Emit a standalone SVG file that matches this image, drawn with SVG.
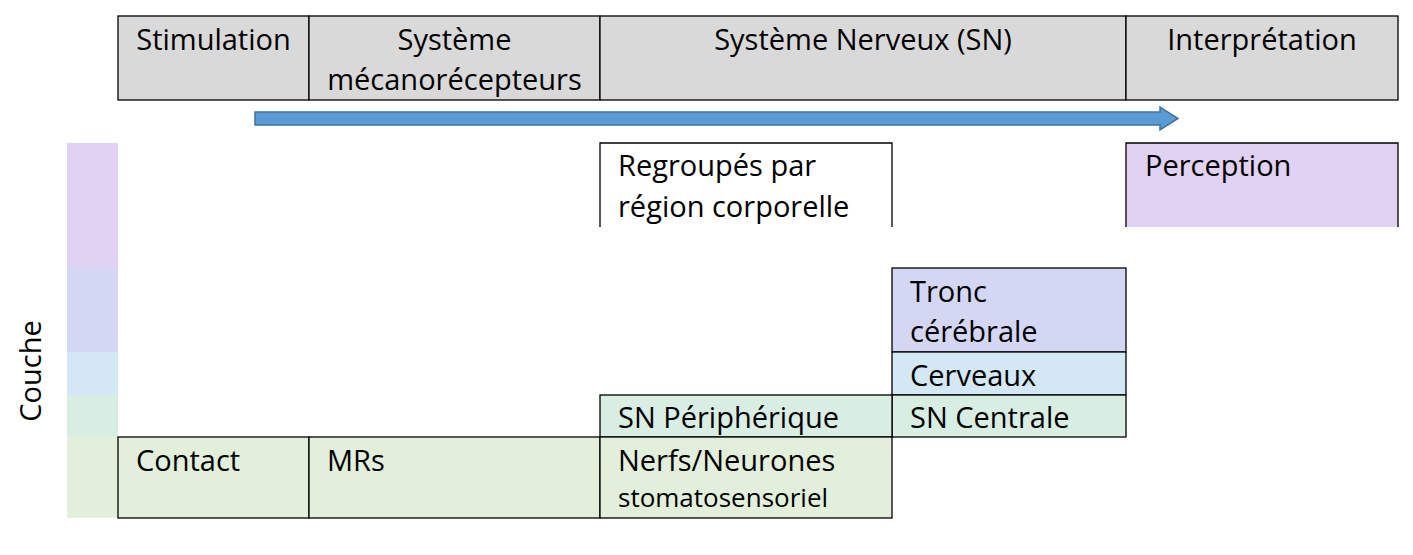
<svg xmlns="http://www.w3.org/2000/svg" width="1413" height="555" viewBox="0 0 1413 555">
<style>
text{font-family:"Open Sans","Noto Sans",sans-serif;font-size:29px;fill:#000}
.c{text-anchor:middle}
.b{stroke:#000;stroke-width:1.3}
.e{stroke:#000;stroke-width:1.3;fill:none}
.hd{fill:#D9D9D9}
.pu{fill:#E1D2F3}
.vi{fill:#D4D7F3}
.lb{fill:#D3E7F5}
.mi{fill:#D9EEE3}
.gr{fill:#E2EFDA}
</style>
<rect width="1413" height="555" fill="#fff"/>
<g id="layer-bar">
<rect class="pu" x="67" y="143" width="51" height="124"/>
<rect class="vi" x="67" y="267" width="51" height="85"/>
<rect class="lb" x="67" y="352" width="51" height="43"/>
<rect class="mi" x="67" y="395" width="51" height="42"/>
<rect class="gr" x="67" y="437" width="51" height="81"/>
<text class="c" transform="translate(41,371) rotate(-90)">Couche</text>
</g>
<g id="h-stimulation"><rect class="hd b" x="118" y="16" width="191" height="84"/><text class="c" x="213.5" y="50">Stimulation</text></g>
<g id="h-meca"><rect class="hd b" x="309" y="16" width="291" height="84"/><text class="c" x="454.5" y="50">Système</text><text class="c" x="454.5" y="90">mécanorécepteurs</text></g>
<g id="h-sn"><rect class="hd b" x="600" y="16" width="526" height="84"/><text class="c" x="863" y="50">Système Nerveux (SN)</text></g>
<g id="h-interp"><rect class="hd b" x="1126" y="16" width="272" height="84"/><text class="c" x="1262" y="50">Interprétation</text></g>
<g id="connectors">
<path d="M255,112 H1160 V107 L1178,118.5 L1160,130 V125 H255 Z" fill="#5B9BD5" stroke="#41719C" stroke-width="1.5"/>
</g>
<g id="regroupes"><rect x="600" y="143" width="292" height="84" fill="#fff"/><path class="e" d="M600,227 V143 H892 V227"/><text x="618" y="176">Regroupés par</text><text x="618" y="217">région corporelle</text></g>
<g id="perception"><rect class="pu" x="1126" y="143" width="272" height="84"/><path class="e" d="M1126,227 V143 H1398 V227"/><text x="1145" y="176">Perception</text></g>
<g id="tronc"><rect class="vi b" x="892" y="268" width="234" height="84"/><text x="910" y="302">Tronc</text><text x="910" y="342">cérébrale</text></g>
<g id="cerveaux"><rect class="lb b" x="892" y="352" width="234" height="43"/><text x="910" y="386">Cerveaux</text></g>
<g id="sn-centrale"><rect class="mi b" x="892" y="395" width="234" height="42"/><text x="910" y="428">SN Centrale</text></g>
<g id="sn-peri"><rect class="mi b" x="600" y="395" width="292" height="42"/><text x="618" y="428">SN Périphérique</text></g>
<g id="contact"><rect class="gr b" x="118" y="437" width="191" height="81"/><text x="136" y="471">Contact</text></g>
<g id="mrs"><rect class="gr b" x="309" y="437" width="291" height="81"/><text x="327" y="471">MRs</text></g>
<g id="nerfs"><rect class="gr b" x="600" y="437" width="292" height="81"/><text x="618" y="471">Nerfs/Neurones</text><text x="618" y="507" style="font-size:26px">stomatosensoriel</text></g>
</svg>
